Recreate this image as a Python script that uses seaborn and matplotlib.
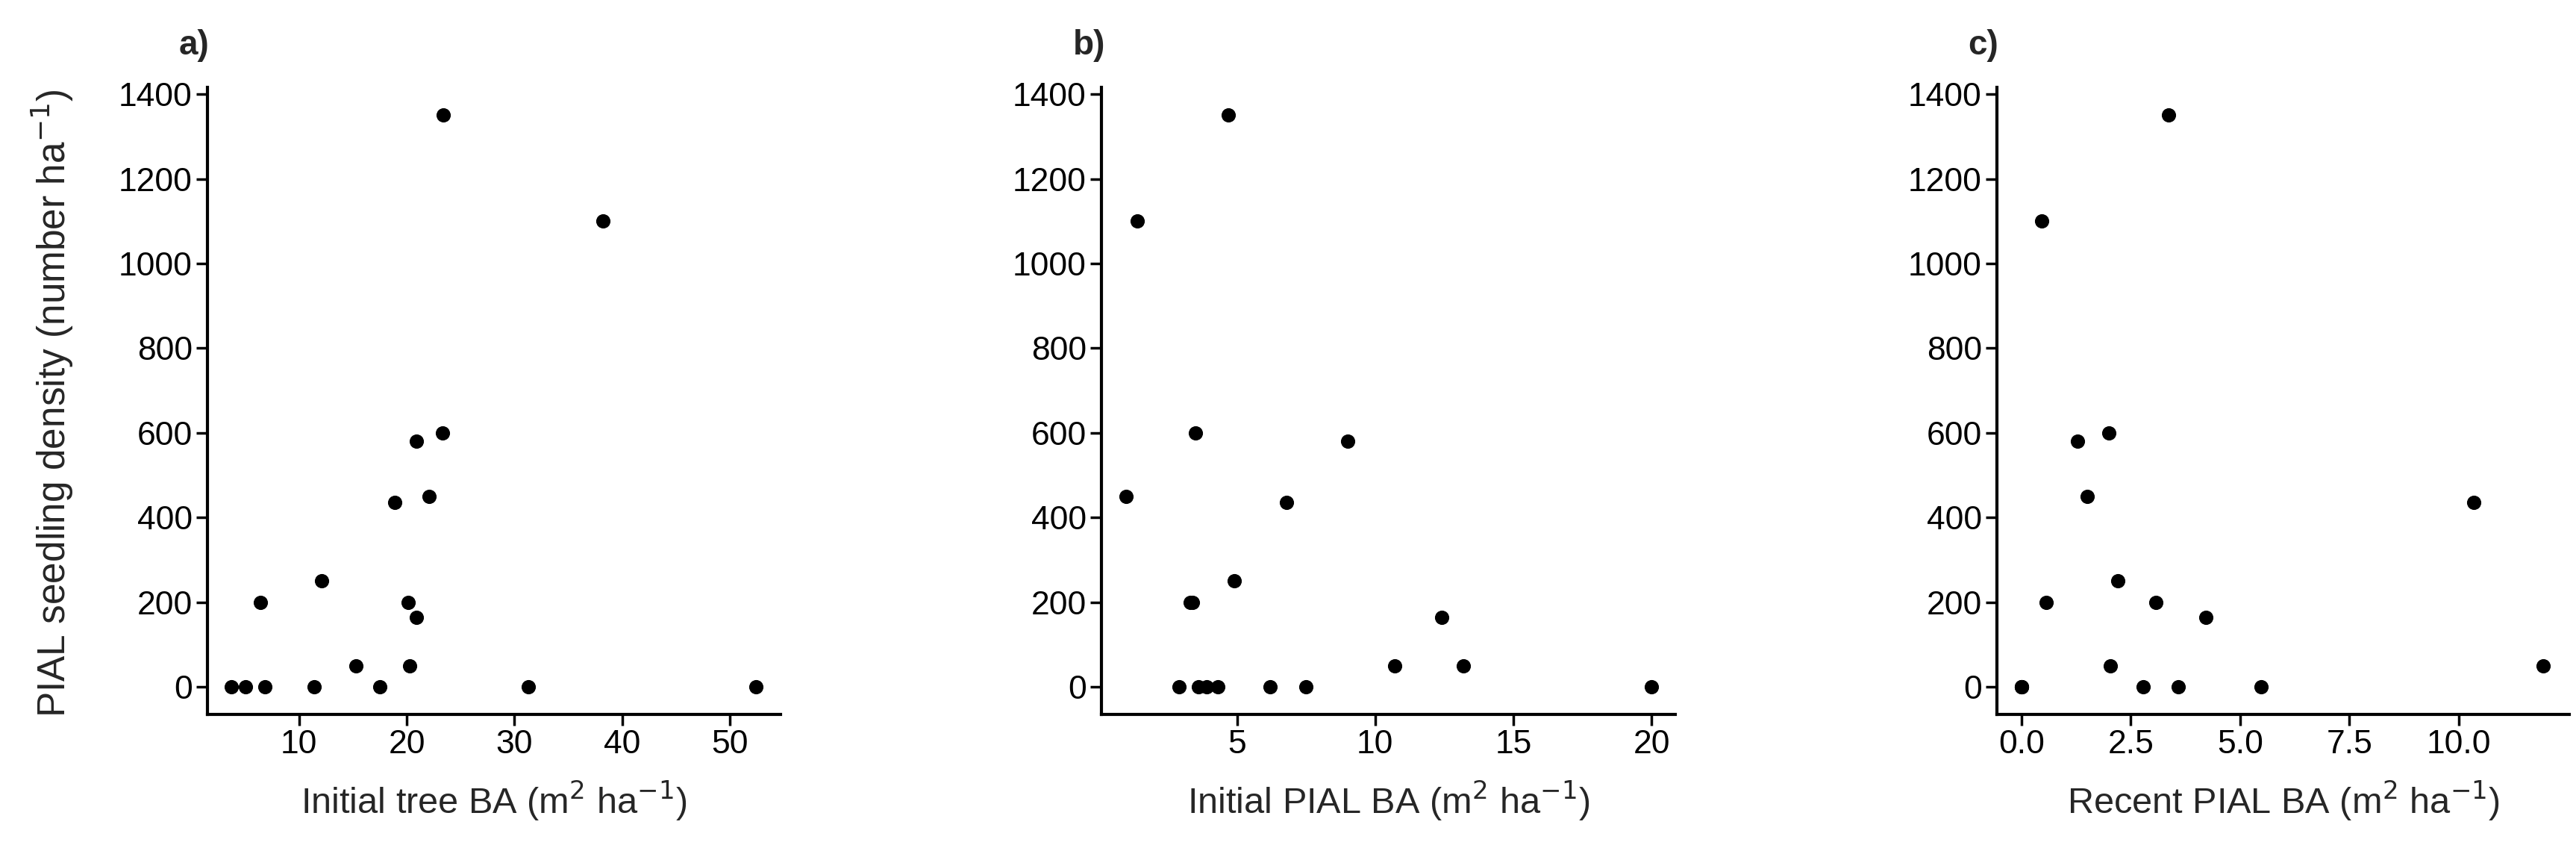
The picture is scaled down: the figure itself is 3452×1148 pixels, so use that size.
import pandas as pd
import matplotlib
matplotlib.use("Agg")
import matplotlib.pyplot as plt
import seaborn as sns

# seedling density (number/ha) per site, same order in every panel
density_a = [0, 0, 0, 0, 0, 0, 0, 50, 50, 165, 200, 200, 250, 435, 450, 580, 600, 1100, 1350]
initial_tree_ba = [3.7, 5.0, 6.8, 11.4, 17.5, 31.3, 52.4, 15.3, 20.3, 20.9, 6.4, 20.1, 12.1, 18.9, 22.1, 20.9, 23.3, 38.2, 23.4]

density_b = [0, 0, 0, 0, 0, 0, 0, 50, 50, 165, 200, 200, 250, 435, 450, 580, 600, 1100, 1350]
initial_pial_ba = [2.9, 3.6, 3.9, 4.3, 6.2, 7.5, 20.0, 10.7, 13.2, 12.4, 3.3, 3.4, 4.9, 6.8, 1.0, 9.0, 3.5, 1.4, 4.7]

density_c = [0, 0, 0, 0, 0, 0, 0, 50, 50, 165, 200, 200, 250, 435, 450, 580, 600, 1100, 1350]
recent_pial_ba = [0.0, 0.0, 0.0, 0.0, 2.78, 3.59, 5.48, 2.03, 11.94, 4.22, 0.57, 3.08, 2.2, 10.34, 1.5, 1.28, 2.0, 0.47, 3.36]

sns.set_theme(style="ticks")
plt.rcParams['font.family'] = ['Liberation Sans', 'DejaVu Sans']

fig = plt.figure(figsize=(34.52, 11.48), dpi=100)
W, H = 3452, 1148
panels = [
    (initial_tree_ba, density_a, "a)", "Initial tree BA (m$^2$ ha$^{-1}$)", (278, 1046), (1.5, 54.7), [10, 20, 30, 40, 50], None),
    (initial_pial_ba, density_b, "b)", "Initial PIAL BA (m$^2$ ha$^{-1}$)", (1476, 2245), (0.1, 20.86), [5, 10, 15, 20], None),
    (recent_pial_ba, density_c, "c)", "Recent PIAL BA (m$^2$ ha$^{-1}$)", (2676, 3443), (-0.56, 12.53), [0, 2.5, 5, 7.5, 10], "%.1f"),
]
for x, y, tag, xlabel, (l, r), xlim, xt, fmt in panels:
    ax = fig.add_axes([l / W, 1 - 957 / H, (r - l) / W, (957 - 117) / H])
    df = pd.DataFrame({"x": x, "y": y})
    sns.scatterplot(data=df, x="x", y="y", ax=ax, color="black", s=190, edgecolor="black", linewidth=0)
    ax.set_xlim(*xlim)
    ax.set_ylim(-65, 1416)
    ax.set_xticks(xt)
    if fmt:
        ax.set_xticklabels([fmt % v for v in xt])
    ax.set_yticks(range(0, 1401, 200))
    ax.tick_params(labelsize=32, width=2.5, length=11, color="black", labelcolor="black")
    for s in ["left", "bottom"]:
        ax.spines[s].set_linewidth(3)
        ax.spines[s].set_color("black")
    sns.despine(ax=ax)
    ax.set_xlabel(xlabel, fontsize=35, labelpad=18)
    ax.set_ylabel("")
    ax.text(-0.05, 1.04, tag, transform=ax.transAxes, fontsize=33, fontweight="bold", ha="left", va="bottom")

fig.text(70 / W, 1 - 540 / H, "PIAL seedling density (number ha$^{-1}$)", rotation=90, fontsize=37, ha="center", va="center")
fig.savefig("out.png", dpi=100)
